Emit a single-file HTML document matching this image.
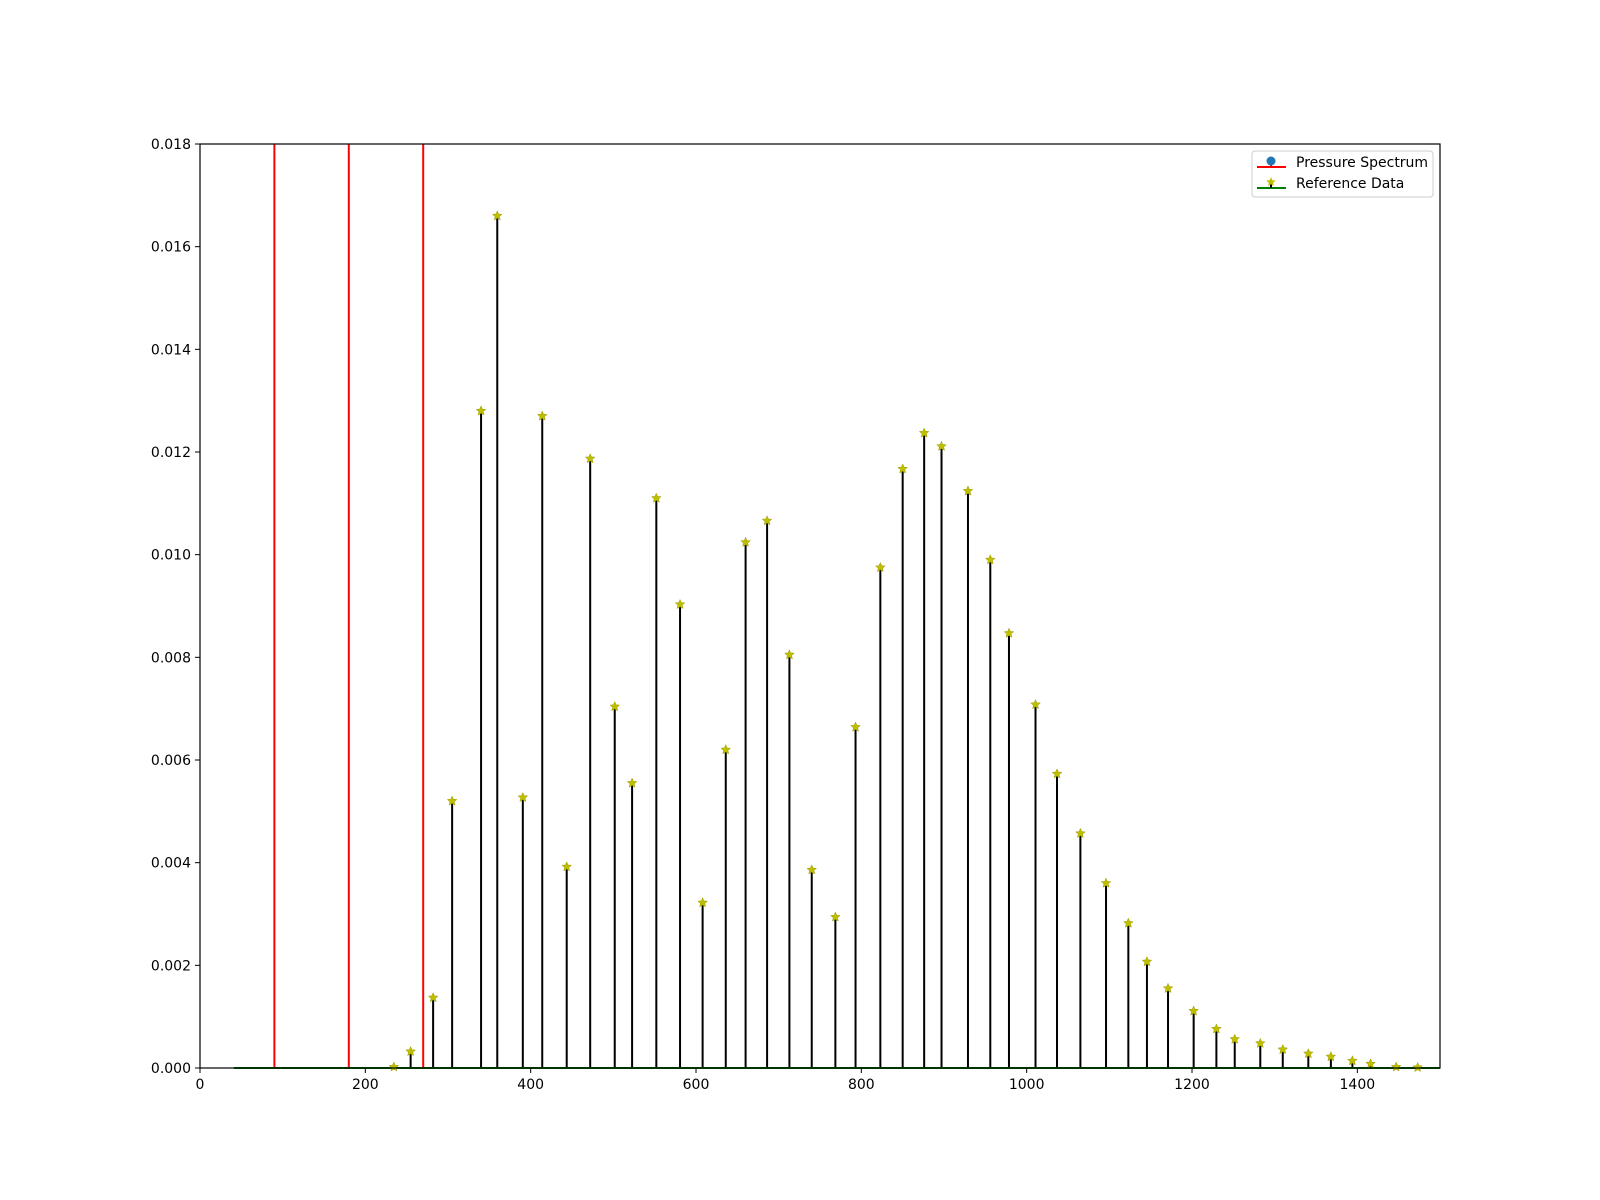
<!DOCTYPE html>
<html><head><meta charset="utf-8"><style>
body{margin:0;background:#fff;}
svg{display:block;font-family:"DejaVu Sans","Liberation Sans",sans-serif;}
</style></head><body>
<svg id="chart" width="1600" height="1200">
<rect width="1600" height="1200" fill="#fff"/>
<g id="plot"></g>
</svg>
<script>
const stemX=[234.5,254.8,282,305,340,359.6,390.5,414,443.6,472,501.7,522.7,552,580.7,608,636,660,686,713,740,768.6,793,823,850,876,897,929,956,978.6,1010.7,1036.7,1065,1096,1123,1145.5,1171,1202,1229.5,1251.7,1282.6,1309.8,1340.7,1368,1394,1416,1447,1473];
const stemY=[0.00002,0.00032,0.00137,0.0052,0.0128,0.0166,0.00527,0.0127,0.00392,0.01187,0.00704,0.00555,0.0111,0.00903,0.00322,0.0062,0.01024,0.01066,0.00805,0.00386,0.00294,0.00664,0.00975,0.01167,0.01237,0.01211,0.01124,0.0099,0.00847,0.00708,0.00573,0.00457,0.0036,0.00282,0.00207,0.00155,0.00111,0.00076,0.00056,0.00048,0.00036,0.00028,0.00022,0.00014,0.00008,0.00002,0.00001];
const redX=[90,180,270];
const xTicks=[0,200,400,600,800,1000,1200,1400];
const yTicks=[0,0.002,0.004,0.006,0.008,0.010,0.012,0.014,0.016,0.018];
const baseline=[41,1500];

const L=200,R=1440,T=144,B=1068;
const sx=v=>L+(v/1500)*(R-L);
const sy=v=>B-(v/0.018)*(B-T);
const NS="http://www.w3.org/2000/svg";
const g=document.getElementById('plot');
function mk(tag,attrs,parent){const e=document.createElementNS(NS,tag);for(const k in attrs)e.setAttribute(k,attrs[k]);(parent||g).appendChild(e);return e;}

stemX.forEach((x,i)=>{
  const l=mk('line',{x1:sx(x),x2:sx(x),y1:sy(0),y2:sy(stemY[i]),stroke:'#000','stroke-width':2});
  
  
});
redX.forEach((x,i)=>{
  const l=mk('line',{x1:sx(x),x2:sx(x),y1:T,y2:B,stroke:'#ff0000','stroke-width':2});
  
  
});
const gb=mk('line',{x1:sx(baseline[0]),x2:sx(baseline[1]),y1:B,y2:B,stroke:'#008000','stroke-width':2});


function star(cx,cy,r){let p=[];for(let k=0;k<10;k++){const a=-Math.PI/2+k*Math.PI/5;const rr=k%2?r*0.45:r;p.push((cx+rr*Math.cos(a)).toFixed(1)+','+(cy+rr*Math.sin(a)).toFixed(1));}return p.join(' ');}
stemX.forEach((x,i)=>{
  const s=mk('polygon',{points:star(sx(x),sy(stemY[i]),5),fill:'#bfbf00',stroke:'#9a9a00','stroke-width':0.5});
  
  
});
const fr=mk('rect',{x:L,y:T,width:R-L,height:B-T,fill:'none',stroke:'#000','stroke-width':1.2});


xTicks.forEach(v=>{
  mk('line',{x1:sx(v),x2:sx(v),y1:B,y2:B+5,stroke:'#000','stroke-width':1});
  const t=mk('text',{x:sx(v),y:B+21,'text-anchor':'middle','font-size':14});
  t.textContent=v;
  
  
});
yTicks.forEach(v=>{
  mk('line',{x1:L-5,x2:L,y1:sy(v),y2:sy(v),stroke:'#000','stroke-width':1});
  const t=mk('text',{x:L-9,y:sy(v)+5,'text-anchor':'end','font-size':14});
  t.textContent=v.toFixed(3);
  
  
});
const lg=mk('g',{});


mk('rect',{x:1252,y:151,width:181,height:46,rx:3,fill:'#fff',stroke:'#ccc','stroke-width':1},lg);
mk('line',{x1:1257,x2:1286,y1:167,y2:167,stroke:'#ff0000','stroke-width':2},lg);
mk('line',{x1:1271,x2:1271,y1:161,y2:167,stroke:'#ff0000','stroke-width':2},lg);
mk('circle',{cx:1271,cy:161,r:4.5,fill:'#1f77b4'},lg);
const t1=mk('text',{x:1296,y:167,'font-size':14},lg);t1.textContent='Pressure Spectrum';


mk('line',{x1:1257,x2:1286,y1:188,y2:188,stroke:'#008000','stroke-width':2},lg);
mk('line',{x1:1271,x2:1271,y1:182,y2:188,stroke:'#000','stroke-width':2},lg);
mk('polygon',{points:star(1271,182,5),fill:'#bfbf00'},lg);
const t2=mk('text',{x:1296,y:188,'font-size':14},lg);t2.textContent='Reference Data';


</script>
</body></html>
